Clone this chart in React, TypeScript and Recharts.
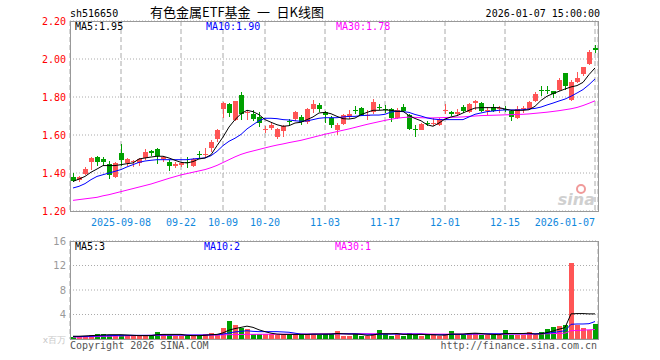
import React from "react";
import { Bar, CartesianGrid, ComposedChart, Line, XAxis, YAxis } from "recharts";

const dates = [
  "2025-08-27", "2025-08-28", "2025-08-29", "2025-09-01", "2025-09-02", "2025-09-03", "2025-09-04", "2025-09-05",
  "2025-09-08", "2025-09-09", "2025-09-10", "2025-09-11", "2025-09-12", "2025-09-15", "2025-09-16", "2025-09-17",
  "2025-09-18", "2025-09-19", "2025-09-22", "2025-09-23", "2025-09-24", "2025-09-25", "2025-09-26", "2025-09-29",
  "2025-09-30", "2025-10-09", "2025-10-10", "2025-10-13", "2025-10-14", "2025-10-15", "2025-10-16", "2025-10-17",
  "2025-10-20", "2025-10-21", "2025-10-22", "2025-10-23", "2025-10-24", "2025-10-27", "2025-10-28", "2025-10-29",
  "2025-10-30", "2025-10-31", "2025-11-03", "2025-11-04", "2025-11-05", "2025-11-06", "2025-11-07", "2025-11-10",
  "2025-11-11", "2025-11-12", "2025-11-13", "2025-11-14", "2025-11-17", "2025-11-18", "2025-11-19", "2025-11-20",
  "2025-11-21", "2025-11-24", "2025-11-25", "2025-11-26", "2025-11-27", "2025-11-28", "2025-12-01", "2025-12-02",
  "2025-12-03", "2025-12-04", "2025-12-05", "2025-12-08", "2025-12-09", "2025-12-10", "2025-12-11", "2025-12-12",
  "2025-12-15", "2025-12-16", "2025-12-17", "2025-12-18", "2025-12-19", "2025-12-22", "2025-12-23", "2025-12-24",
  "2025-12-25", "2025-12-26", "2025-12-29", "2025-12-30", "2025-12-31", "2026-01-05", "2026-01-06", "2026-01-07",
];

const opens = [
  1.377, 1.363, 1.393, 1.456, 1.482, 1.474, 1.449, 1.377, 1.505, 1.454,
  1.46, 1.453, 1.479, 1.518, 1.526, 1.474, 1.46, 1.435, 1.44, 1.458,
  1.437, 1.5, 1.497, 1.533, 1.58, 1.735, 1.765, 1.68, 1.812, 1.716,
  1.712, 1.695, 1.628, 1.638, 1.591, 1.619, 1.676, 1.684, 1.695, 1.668,
  1.735, 1.759, 1.72, 1.691, 1.624, 1.656, 1.693, 1.732, 1.742, 1.698,
  1.719, 1.749, 1.739, 1.739, 1.689, 1.75, 1.703, 1.633, 1.628, 1.661,
  1.66, 1.651, 1.73, 1.723, 1.712, 1.745, 1.719, 1.768, 1.768, 1.731,
  1.747, 1.737, 1.738, 1.728, 1.689, 1.737, 1.737, 1.781, 1.835, 1.837,
  1.832, 1.835, 1.926, 1.782, 1.877, 1.921, 1.974, 2.058,
];
const highs = [
  1.4, 1.382, 1.433, 1.484, 1.487, 1.486, 1.465, 1.456, 1.554, 1.479,
  1.467, 1.481, 1.526, 1.523, 1.533, 1.491, 1.467, 1.456, 1.46, 1.482,
  1.479, 1.516, 1.53, 1.575, 1.63, 1.775, 1.766, 1.781, 1.824, 1.73,
  1.73, 1.72, 1.65, 1.663, 1.635, 1.654, 1.686, 1.728, 1.705, 1.74,
  1.786, 1.768, 1.728, 1.702, 1.663, 1.712, 1.73, 1.754, 1.747, 1.733,
  1.789, 1.765, 1.758, 1.742, 1.744, 1.765, 1.708, 1.654, 1.661, 1.675,
  1.69, 1.69, 1.765, 1.724, 1.737, 1.76, 1.768, 1.786, 1.772, 1.747,
  1.761, 1.754, 1.754, 1.733, 1.751, 1.754, 1.777, 1.828, 1.86, 1.856,
  1.833, 1.9, 1.927, 1.891, 1.93, 1.957, 2.046, 2.072,
];
const lows = [
  1.354, 1.35, 1.388, 1.418, 1.439, 1.435, 1.368, 1.372, 1.435, 1.439,
  1.43, 1.439, 1.47, 1.488, 1.447, 1.46, 1.409, 1.426, 1.432, 1.426,
  1.433, 1.477, 1.477, 1.51, 1.565, 1.689, 1.693, 1.675, 1.68, 1.677,
  1.672, 1.642, 1.61, 1.628, 1.58, 1.591, 1.65, 1.672, 1.654, 1.66,
  1.716, 1.72, 1.663, 1.635, 1.598, 1.652, 1.684, 1.709, 1.698, 1.677,
  1.712, 1.731, 1.718, 1.67, 1.682, 1.721, 1.626, 1.588, 1.625, 1.645,
  1.645, 1.647, 1.71, 1.698, 1.702, 1.716, 1.716, 1.733, 1.719, 1.705,
  1.719, 1.716, 1.719, 1.672, 1.684, 1.716, 1.73, 1.772, 1.807, 1.814,
  1.795, 1.83, 1.839, 1.777, 1.874, 1.909, 1.97, 2.03,
];
const closes = [
  1.36, 1.378, 1.423, 1.479, 1.456, 1.456, 1.391, 1.453, 1.467, 1.472,
  1.465, 1.475, 1.509, 1.504, 1.488, 1.484, 1.435, 1.447, 1.453, 1.453,
  1.474, 1.498, 1.5, 1.565, 1.628, 1.767, 1.714, 1.777, 1.712, 1.72,
  1.686, 1.663, 1.632, 1.652, 1.63, 1.65, 1.673, 1.719, 1.668, 1.737,
  1.765, 1.735, 1.705, 1.654, 1.652, 1.705, 1.712, 1.728, 1.705, 1.707,
  1.775, 1.745, 1.735, 1.691, 1.731, 1.728, 1.633, 1.628, 1.656, 1.658,
  1.665, 1.684, 1.733, 1.71, 1.723, 1.725, 1.765, 1.781, 1.726, 1.733,
  1.728, 1.74, 1.735, 1.695, 1.737, 1.74, 1.772, 1.818, 1.832, 1.833,
  1.818, 1.891, 1.856, 1.877, 1.9, 1.956, 2.037, 2.046,
];

const ma5 = [
  1.356, 1.368, 1.382, 1.404, 1.421, 1.439, 1.439, 1.439, 1.444, 1.449,
  1.453, 1.474, 1.479, 1.484, 1.488, 1.488, 1.479, 1.467, 1.456, 1.453,
  1.46, 1.474, 1.479, 1.496, 1.544, 1.589, 1.642, 1.681, 1.712, 1.73,
  1.723, 1.707, 1.681, 1.667, 1.654, 1.646, 1.649, 1.663, 1.667, 1.681,
  1.695, 1.716, 1.719, 1.712, 1.698, 1.686, 1.684, 1.689, 1.707, 1.719,
  1.73, 1.73, 1.732, 1.73, 1.725, 1.725, 1.702, 1.687, 1.675, 1.654,
  1.646, 1.663, 1.684, 1.695, 1.702, 1.716, 1.73, 1.742, 1.744, 1.744,
  1.744, 1.744, 1.737, 1.73, 1.73, 1.73, 1.733, 1.751, 1.782, 1.804,
  1.818, 1.83, 1.842, 1.853, 1.86, 1.877, 1.918, 1.953,
];
const ma10 = [
  1.321, 1.33, 1.344, 1.365, 1.382, 1.391, 1.4, 1.409, 1.418, 1.432,
  1.444, 1.456, 1.463, 1.467, 1.47, 1.47, 1.47, 1.47, 1.47, 1.47,
  1.474, 1.477, 1.479, 1.491, 1.514, 1.544, 1.567, 1.583, 1.603, 1.632,
  1.654, 1.675, 1.688, 1.688, 1.686, 1.681, 1.679, 1.675, 1.672, 1.674,
  1.681, 1.688, 1.691, 1.691, 1.691, 1.695, 1.698, 1.698, 1.702, 1.704,
  1.705, 1.705, 1.709, 1.721, 1.725, 1.723, 1.719, 1.708, 1.7, 1.69,
  1.684, 1.681, 1.681, 1.681, 1.681, 1.681, 1.695, 1.709, 1.716, 1.723,
  1.726, 1.73, 1.732, 1.732, 1.732, 1.733, 1.737, 1.74, 1.747, 1.758,
  1.768, 1.779, 1.789, 1.804, 1.821, 1.839, 1.865, 1.895,
];
const ma30 = [
  1.256, 1.26, 1.264, 1.268, 1.272, 1.28, 1.286, 1.294, 1.302, 1.31,
  1.318, 1.326, 1.334, 1.342, 1.352, 1.362, 1.372, 1.381, 1.39, 1.397,
  1.404, 1.411, 1.418, 1.428, 1.44, 1.455, 1.47, 1.485, 1.498, 1.508,
  1.516, 1.524, 1.532, 1.54, 1.547, 1.553, 1.56, 1.566, 1.572, 1.58,
  1.588, 1.596, 1.604, 1.611, 1.618, 1.625, 1.632, 1.64, 1.648, 1.656,
  1.663, 1.67, 1.677, 1.683, 1.688, 1.692, 1.694, 1.693, 1.691, 1.69,
  1.69, 1.691, 1.692, 1.693, 1.694, 1.695, 1.698, 1.7, 1.702, 1.703,
  1.704, 1.705, 1.706, 1.707, 1.708, 1.709, 1.711, 1.714, 1.717, 1.72,
  1.724, 1.728, 1.733, 1.738, 1.745, 1.755, 1.767, 1.78,
];

// volume, x百万
const volumes = [
  0.35, 0.4, 0.5, 0.64, 0.85, 0.85, 0.6, 0.55, 0.6, 0.5,
  0.5, 0.55, 0.6, 0.6, 1.17, 0.85, 0.6, 0.55, 0.55, 0.5,
  0.6, 0.55, 0.85, 1.0, 0.64, 1.76, 2.93, 2.29, 1.8, 1.65,
  0.8, 0.8, 0.8, 0.75, 0.7, 0.75, 0.7, 0.8, 0.7, 0.85,
  0.85, 0.7, 0.85, 0.85, 1.33, 0.55, 0.55, 0.85, 0.55, 0.55,
  0.85, 1.55, 0.85, 0.55, 0.85, 0.55, 1.0, 0.7, 0.55, 0.65,
  0.6, 0.55, 0.85, 1.33, 0.7, 0.7, 1.0, 1.0, 0.7, 0.7,
  0.7, 0.7, 1.55, 0.7, 0.7, 0.7, 1.1, 0.7, 1.1, 1.65,
  2.0, 2.13, 2.3, 12.4, 2.3, 1.8, 1.5, 2.45,
];
const vma5 = [
  0.45, 0.45, 0.5, 0.55, 0.6, 0.65, 0.7, 0.7, 0.7, 0.65,
  0.6, 0.55, 0.55, 0.55, 0.7, 0.75, 0.75, 0.75, 0.75, 0.6,
  0.55, 0.55, 0.6, 0.7, 0.75, 1.0, 1.45, 1.7, 1.9, 2.1,
  1.9, 1.5, 1.2, 0.95, 0.8, 0.75, 0.75, 0.75, 0.75, 0.75,
  0.8, 0.8, 0.8, 0.8, 0.9, 0.85, 0.8, 0.8, 0.75, 0.6,
  0.65, 0.85, 0.85, 0.85, 0.9, 0.75, 0.75, 0.7, 0.75, 0.7,
  0.7, 0.65, 0.65, 0.8, 0.8, 0.8, 0.9, 0.95, 0.9, 0.8,
  0.75, 0.7, 0.9, 0.9, 0.9, 0.9, 0.95, 0.8, 0.85, 1.05,
  1.3, 1.6, 1.85, 4.1, 4.15, 4.15, 4.1, 4.1,
];
const vma10 = [
  0.4, 0.4, 0.42, 0.45, 0.5, 0.52, 0.55, 0.57, 0.6, 0.6,
  0.6, 0.6, 0.6, 0.6, 0.65, 0.65, 0.65, 0.65, 0.65, 0.65,
  0.65, 0.65, 0.65, 0.68, 0.7, 0.8, 1.0, 1.15, 1.25, 1.35,
  1.25, 1.2, 1.2, 1.2, 1.2, 1.15, 1.1, 0.95, 0.8, 0.78,
  0.78, 0.78, 0.78, 0.8, 0.85, 0.85, 0.85, 0.85, 0.8, 0.78,
  0.75, 0.78, 0.8, 0.8, 0.8, 0.8, 0.8, 0.8, 0.8, 0.75,
  0.72, 0.7, 0.7, 0.75, 0.75, 0.75, 0.8, 0.85, 0.85, 0.85,
  0.85, 0.85, 0.85, 0.85, 0.85, 0.85, 0.85, 0.85, 0.9, 0.95,
  1.05, 1.2, 1.35, 2.4, 2.45, 2.45, 2.5, 2.85,
];
const vma30 = [
  0.3, 0.32, 0.35, 0.38, 0.4, 0.43, 0.45, 0.48, 0.5, 0.52,
  0.55, 0.57, 0.58, 0.6, 0.6, 0.62, 0.62, 0.63, 0.63, 0.63,
  0.63, 0.64, 0.64, 0.65, 0.65, 0.68, 0.7, 0.72, 0.74, 0.76,
  0.76, 0.77, 0.77, 0.78, 0.78, 0.78, 0.79, 0.79, 0.8, 0.8,
  0.82, 0.83, 0.84, 0.85, 0.86, 0.86, 0.86, 0.86, 0.86, 0.86,
  0.86, 0.86, 0.86, 0.85, 0.85, 0.85, 0.85, 0.85, 0.85, 0.82,
  0.8, 0.8, 0.8, 0.8, 0.8, 0.8, 0.8, 0.8, 0.8, 0.8,
  0.8, 0.8, 0.8, 0.8, 0.8, 0.8, 0.8, 0.8, 0.82, 0.85,
  0.88, 0.92, 0.95, 1.35, 1.4, 1.45, 1.5, 1.55,
];

const tickDates = [
  "2025-09-08", "2025-09-22", "2025-10-09", "2025-10-20", "2025-11-03",
  "2025-11-17", "2025-12-01", "2025-12-15", "2026-01-07",
];
const tickLabels = [
  "2025-09-08", "09-22", "10-09", "10-20", "11-03", "11-17", "12-01", "12-15", "2026-01-07",
];
const priceTicks = [1.2, 1.4, 1.6, 1.8, 2.0, 2.2];
const volTicks = [0, 4, 8, 12, 16];

const RED = "#ff5555";
const GREEN = "#00a000";
const GRID = "#aaaaaa";
const MONO = "'DejaVu Sans Mono', monospace";

const rows = dates.map((date, i) => ({
  date,
  open: opens[i],
  high: highs[i],
  low: lows[i],
  close: closes[i],
  vol: volumes[i],
  ma5: ma5[i],
  ma10: ma10[i],
  ma30: ma30[i],
  vma5: vma5[i],
  vma10: vma10[i],
  vma30: vma30[i],
}));

function Candle(props: any) {
  const { x, y, width, height, payload } = props;
  if (x == null || y == null) return null;
  const top = Math.min(y, y + height);
  const h = Math.abs(height);
  const k = h / (payload.high - payload.low);
  const py = (v: number) => top + (payload.high - v) * k;
  const up = payload.close >= payload.open;
  const color = up ? RED : GREEN;
  const c = Math.floor(x + width / 2);
  const bTop = Math.round(py(Math.max(payload.open, payload.close)));
  const bBot = Math.round(py(Math.min(payload.open, payload.close)));
  return (
    <g shapeRendering="crispEdges">
      <line x1={c + 0.5} x2={c + 0.5} y1={Math.round(top)} y2={Math.round(top + h)} stroke={color} />
      <rect x={c - 2} y={bTop} width={5} height={Math.max(1, bBot - bTop)} fill={color} />
    </g>
  );
}

function VolBar(props: any) {
  const { x, y, width, height, payload } = props;
  if (x == null || y == null) return null;
  const up = payload.close >= payload.open;
  const c = Math.floor(x + width / 2);
  const top = Math.round(Math.min(y, y + height));
  const bot = Math.round(Math.max(y, y + height));
  return (
    <rect
      x={c - 2}
      y={top}
      width={5}
      height={Math.max(1, bot - top)}
      fill={up ? RED : GREEN}
      shapeRendering="crispEdges"
    />
  );
}

function DateTick(props: any) {
  const { x, payload } = props;
  const i = tickDates.indexOf(payload.value);
  const last = i === tickDates.length - 1;
  return (
    <text
      x={x}
      y={226}
      textAnchor={last ? "end" : "middle"}
      fill="#1188dd"
      fontSize={10}
      fontFamily={MONO}
    >
      {tickLabels[i]}
    </text>
  );
}

function PriceTick(props: any) {
  const { y, payload } = props;
  return (
    <text x={66} y={y + 3.5} textAnchor="end" fill="#ff0000" fontSize={10} fontFamily={MONO}>
      {Number(payload.value).toFixed(2)}
    </text>
  );
}

function VolTick(props: any) {
  const { y, payload } = props;
  const zero = payload.value === 0;
  return (
    <text
      x={66}
      y={y + 3.5}
      textAnchor="end"
      fill={zero ? "#c8c8c8" : "#999"}
      fontSize={zero ? 9 : 10}
      fontFamily="'DejaVu Sans', sans-serif"
    >
      {zero ? "x百万" : payload.value}
    </text>
  );
}

const frame = (top: number, height: number): React.CSSProperties => ({
  position: "absolute",
  left: 70,
  top,
  width: 529,
  height,
  border: "1px solid #999",
  boxSizing: "border-box",
  pointerEvents: "none",
});

export default function App() {
  return (
    <div style={{ position: "absolute", left: 0, top: 0, width: 660, height: 360, background: "#fff" }}>
      <div style={{ position: "absolute", left: 0, top: 0 }}>
        <ComposedChart
          width={660}
          height={235}
          data={rows}
          margin={{ top: 21, right: 62, bottom: 4, left: 8 }}
        >
          <CartesianGrid horizontal={true} vertical={false} stroke={GRID} strokeDasharray="1 2" />
          <CartesianGrid horizontal={false} vertical={true} stroke={GRID} strokeDasharray="5 3" />
          <XAxis
            dataKey="date"
            ticks={tickDates}
            interval={0}
            height={20}
            tickLine={false}
            axisLine={false}
            tick={<DateTick />}
          />
          <YAxis
            domain={[1.2, 2.2]}
            ticks={priceTicks}
            allowDataOverflow
            width={62}
            tickLine={false}
            axisLine={false}
            tick={<PriceTick />}
          />
          <Bar
            dataKey={(d: any) => [d.low, d.high]}
            barSize={5}
            shape={<Candle />}
            isAnimationActive={false}
          />
          <Line type="linear" dataKey="ma30" stroke="#ff00ff" strokeWidth={1} dot={false} isAnimationActive={false} />
          <Line type="linear" dataKey="ma10" stroke="#0000ff" strokeWidth={1} dot={false} isAnimationActive={false} />
          <Line type="linear" dataKey="ma5" stroke="#000000" strokeWidth={1} dot={false} isAnimationActive={false} />
        </ComposedChart>
      </div>
      <div style={{ position: "absolute", left: 0, top: 232 }}>
        <ComposedChart
          width={660}
          height={120}
          data={rows}
          margin={{ top: 9, right: 62, bottom: 13, left: 8 }}
        >
          <CartesianGrid horizontal={true} vertical={false} stroke={GRID} strokeDasharray="1 2" />
          <CartesianGrid horizontal={false} vertical={true} stroke={GRID} strokeDasharray="5 3" />
          <XAxis
            dataKey="date"
            ticks={tickDates}
            interval={0}
            height={0}
            tick={false}
            tickLine={false}
            axisLine={false}
          />
          <YAxis
            domain={[0, 16]}
            ticks={volTicks}
            allowDataOverflow
            width={62}
            tickLine={false}
            axisLine={false}
            tick={<VolTick />}
          />
          <Bar dataKey="vol" barSize={5} shape={<VolBar />} isAnimationActive={false} />
          <Line type="linear" dataKey="vma30" stroke="#ff00ff" strokeWidth={1} dot={false} isAnimationActive={false} />
          <Line type="linear" dataKey="vma10" stroke="#0000ff" strokeWidth={1} dot={false} isAnimationActive={false} />
          <Line type="linear" dataKey="vma5" stroke="#000000" strokeWidth={1} dot={false} isAnimationActive={false} />
        </ComposedChart>
      </div>
      <div style={frame(21, 191)} />
      <div style={frame(241, 99)} />
      <svg
        width={660}
        height={360}
        style={{ position: "absolute", left: 0, top: 0, pointerEvents: "none" }}
      >
        <text x={70} y={17} fontSize={10} fontFamily={MONO} fill="#000">sh516650</text>
        <text x={150} y={17} fontSize={13} fontFamily="'Noto Sans CJK SC', sans-serif" fill="#000">
          {"有色金属ETF基金\u2002一\u2002日K线图"}
        </text>
        <text x={600} y={17} textAnchor="end" fontSize={10} fontFamily={MONO} fill="#000">
          2026-01-07 15:00:00
        </text>
        <text x={75} y={30} fontSize={10} fontFamily={MONO} fill="#000">MA5:1.95</text>
        <text x={206} y={30} fontSize={10} fontFamily={MONO} fill="#0000ff">MA10:1.90</text>
        <text x={336} y={30} fontSize={10} fontFamily={MONO} fill="#ff00ff">MA30:1.78</text>
        <text x={75} y={250} fontSize={10} fontFamily={MONO} fill="#000">MA5:3</text>
        <text x={204} y={250} fontSize={10} fontFamily={MONO} fill="#0000ff">MA10:2</text>
        <text x={335} y={250} fontSize={10} fontFamily={MONO} fill="#ff00ff">MA30:1</text>
        <circle cx={581} cy={189} r={4} fill="none" stroke="#f09a9a" strokeWidth={2} />
        <text
          x={595}
          y={205}
          textAnchor="end"
          fontSize={16}
          fontStyle="italic"
          fontWeight="bold"
          fontFamily="'DejaVu Sans', sans-serif"
          fill="#d0d0d0"
        >
          sina
        </text>
        <text x={70} y={349} fontSize={10} fontFamily={MONO} fill="#555">Copyright 2026 SINA.COM</text>
        <text x={597} y={349} textAnchor="end" fontSize={10} fontFamily={MONO} fill="#555">
          http://finance.sina.com.cn
        </text>
      </svg>
    </div>
  );
}
